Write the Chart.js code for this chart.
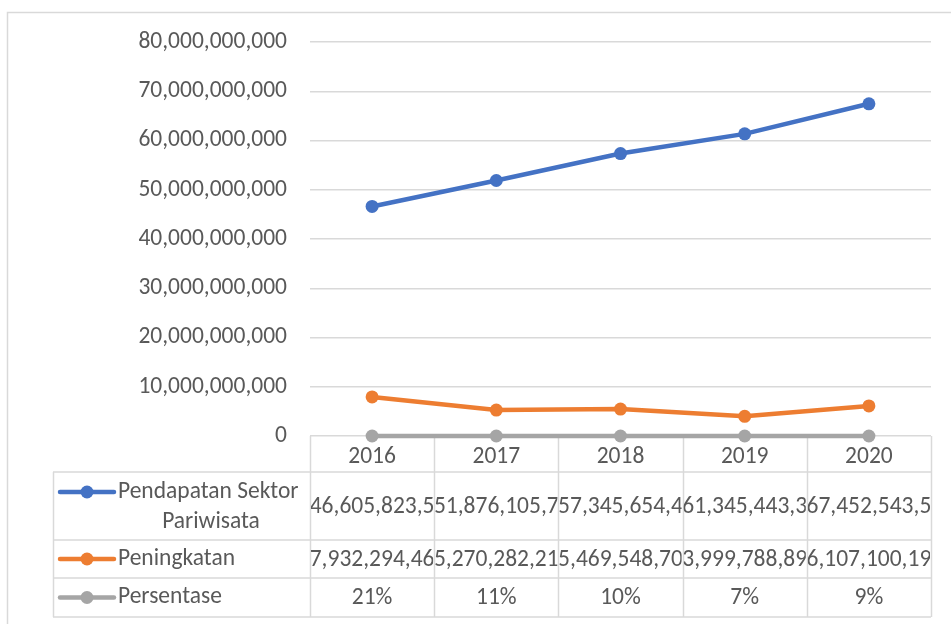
<!DOCTYPE html>
<html>
<head>
<meta charset="utf-8">
<script src="https://cdn.jsdelivr.net/npm/chart.js@4.4.1/dist/chart.umd.min.js"></script>
<style>
  html,body{margin:0;padding:0;background:#fff;}
  #wrap{position:relative;width:951px;height:624px;}
</style>
</head>
<body>
<div id="wrap"><canvas id="chart" width="951" height="624"></canvas></div>
<script>
/* ===== Data ===== */
const years = ['2016','2017','2018','2019','2020'];
const pendapatan = [46605823500, 51876105700, 57345654400, 61345443300, 67452543500];
const peningkatan = [7932294460, 5270282210, 5469548700, 3999788890, 6107100190];
const persentase = [0.21, 0.11, 0.10, 0.07, 0.09];
// text as it shows in the data table cells
const pendapatanText = ['46,605,823,5','51,876,105,7','57,345,654,4','61,345,443,3','67,452,543,5'];
const peningkatanText = ['7,932,294,46','5,270,282,21','5,469,548,70','3,999,788,89','6,107,100,19'];
const persentaseText = ['21%','11%','10%','7%','9%'];
const yTicks = [0,10e9,20e9,30e9,40e9,50e9,60e9,70e9,80e9];

const FONT = 'Carlito, Lato, sans-serif';
const FS = 23.5;
const TXT = '#595959';
const GRID = '#D9D9D9';
const colors = ['#4472C4','#ED7D31','#A5A5A5'];

/* ===== Data table plugin (drawn under the plot, Excel style) ===== */
const rows = [
  {label:['Pendapatan Sektor','Pariwisata'], text:pendapatanText, color:colors[0], h:68},
  {label:['Peningkatan'], text:peningkatanText, color:colors[1], h:38},
  {label:['Persentase'], text:persentaseText, color:colors[2], h:39}
];

const dataTable = {
  id:'dataTable',
  beforeDatasetsDraw(chart){
    const ctx = chart.ctx, x = chart.scales.x, area = chart.chartArea;
    const step = x.getPixelForValue(1) - x.getPixelForValue(0);
    const left = 53, headH = 36;
    const top = area.bottom;
    let bottom = top + headH;
    rows.forEach(r => bottom += r.h);

    ctx.save();
    // outer chart border
    ctx.strokeStyle = GRID; ctx.lineWidth = 1.5;
    ctx.strokeRect(7.5, 12.5, 960, 640);

    // column lines
    for(let i=0;i<=years.length;i++){
      const cx = Math.round(x.getPixelForValue(i) - step/2) + .5;
      ctx.beginPath(); ctx.moveTo(cx, top); ctx.lineTo(cx, bottom); ctx.stroke();
    }
    // row lines
    let y = top + headH;
    ctx.beginPath(); ctx.moveTo(left, y); ctx.lineTo(area.right, y); ctx.stroke();
    ctx.beginPath(); ctx.moveTo(left+.5, y); ctx.lineTo(left+.5, bottom); ctx.stroke();
    rows.forEach(r => {
      y += r.h;
      ctx.beginPath(); ctx.moveTo(left, y); ctx.lineTo(area.right, y); ctx.stroke();
    });

    // cells
    ctx.font = FS + 'px ' + FONT;
    ctx.textBaseline = 'middle';
    y = top + headH;
    rows.forEach(r => {
      const firstLine = r.label.length > 1 ? y + 20 : y + r.h/2;
      // legend key
      ctx.strokeStyle = r.color; ctx.lineWidth = 4.5; ctx.lineCap = 'round';
      ctx.beginPath(); ctx.moveTo(60, firstLine); ctx.lineTo(114, firstLine); ctx.stroke();
      ctx.fillStyle = r.color;
      ctx.beginPath(); ctx.arc(87, firstLine, 6.5, 0, Math.PI*2); ctx.fill();
      // label
      ctx.fillStyle = TXT;
      ctx.textAlign = 'left';
      ctx.fillText(r.label[0], 118, firstLine);
      if(r.label.length > 1){
        ctx.textAlign = 'center';
        ctx.fillText(r.label[1], 211, firstLine + 30);
      }
      // values, clipped to their cell
      r.text.forEach((t,i) => {
        const cx = x.getPixelForValue(i);
        ctx.save();
        ctx.beginPath(); ctx.rect(cx - step/2 + 1, y, step - 2, r.h); ctx.clip();
        ctx.textAlign = 'center';
        ctx.fillText(t, cx, y + r.h/2 + 1);
        ctx.restore();
      });
      y += r.h;
    });
    ctx.restore();
  }
};

/* ===== Chart ===== */
const ds = (label, data, color) => ({
  label, data, borderColor:color, backgroundColor:color,
  borderWidth:4.5, pointRadius:6.5, pointHoverRadius:6.5,
  pointBackgroundColor:color, pointBorderWidth:0, tension:0, clip:false
});

new Chart(document.getElementById('chart'), {
  type:'line',
  data:{
    labels: years,
    datasets:[
      ds('Pendapatan Sektor Pariwisata', pendapatan, colors[0]),
      ds('Peningkatan', peningkatan, colors[1]),
      ds('Persentase', persentase, colors[2])
    ]
  },
  options:{
    responsive:false, animation:false,
    layout:{padding:{top:42,right:20,bottom:0,left:0}},
    plugins:{legend:{display:false}, tooltip:{enabled:false}},
    scales:{
      x:{
        offset:true,
        grid:{display:false, drawTicks:false},
        border:{display:false},
        ticks:{color:TXT, font:{family:FONT, size:FS}, padding:7},
        afterFit(s){ s.height = 188; }
      },
      y:{
        min:0, max:80e9,
        afterBuildTicks(s){ s.ticks = yTicks.map(v => ({value:v})); },
        grid:{color:GRID, lineWidth:1.5, drawTicks:false},
        border:{display:false},
        ticks:{color:TXT, font:{family:FONT, size:FS}, padding:23,
          callback:v => v.toLocaleString('en-US')},
        afterFit(s){ s.width = 310; }
      }
    }
  },
  plugins:[dataTable]
});
</script>
</body>
</html>
